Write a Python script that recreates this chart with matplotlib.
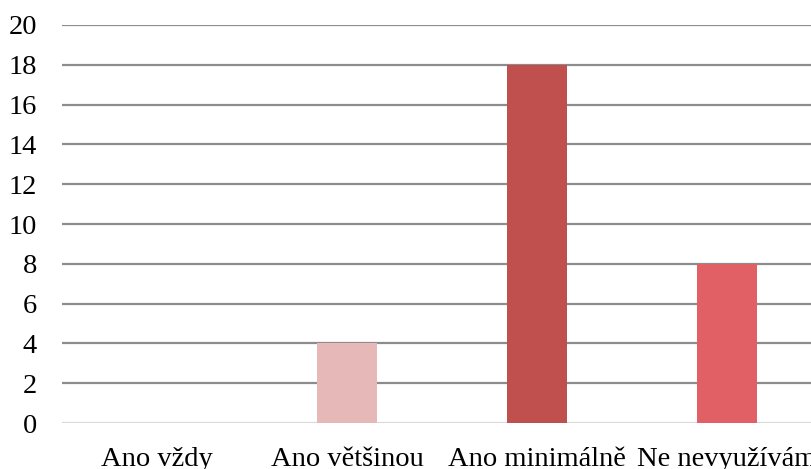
import numpy as np
import matplotlib.pyplot as plt

categories = ['Ano vždy', 'Ano většinou', 'Ano minimálně', 'Ne nevyužívám']
values = [0, 4, 18, 8]
colors = ['#E6B9B8', '#E6B9B8', '#C0504D', '#E06065']

plt.rcParams['font.family'] = ['Liberation Serif', 'DejaVu Serif']

fig = plt.figure(figsize=(8.12, 4.69), dpi=100)
ax = fig.add_axes([62/812, 46/469, 760/812, 398/469])

x = np.arange(len(categories))
ax.bar(x, values, width=0.316, color=colors, zorder=3)

ax.set_xlim(-0.5, 3.5)
ax.set_ylim(0, 20)
ax.set_yticks(np.arange(0, 21, 2))
ax.set_xticks(x)
ax.set_xticklabels(categories)

# gridlines: grey, baseline lighter
for yv in np.arange(2, 21, 2):
    ax.axhline(yv, color='#8C8C8C', lw=1.6, zorder=1)
ax.axhline(0, color='#D9D9D9', lw=1.6, zorder=2)

for s in ax.spines.values():
    s.set_visible(False)
ax.tick_params(axis='both', length=0, labelsize=20.5, colors='black')
ax.tick_params(axis='y', pad=18)
ax.tick_params(axis='x', pad=17)

fig.savefig('out.png', dpi=100)
